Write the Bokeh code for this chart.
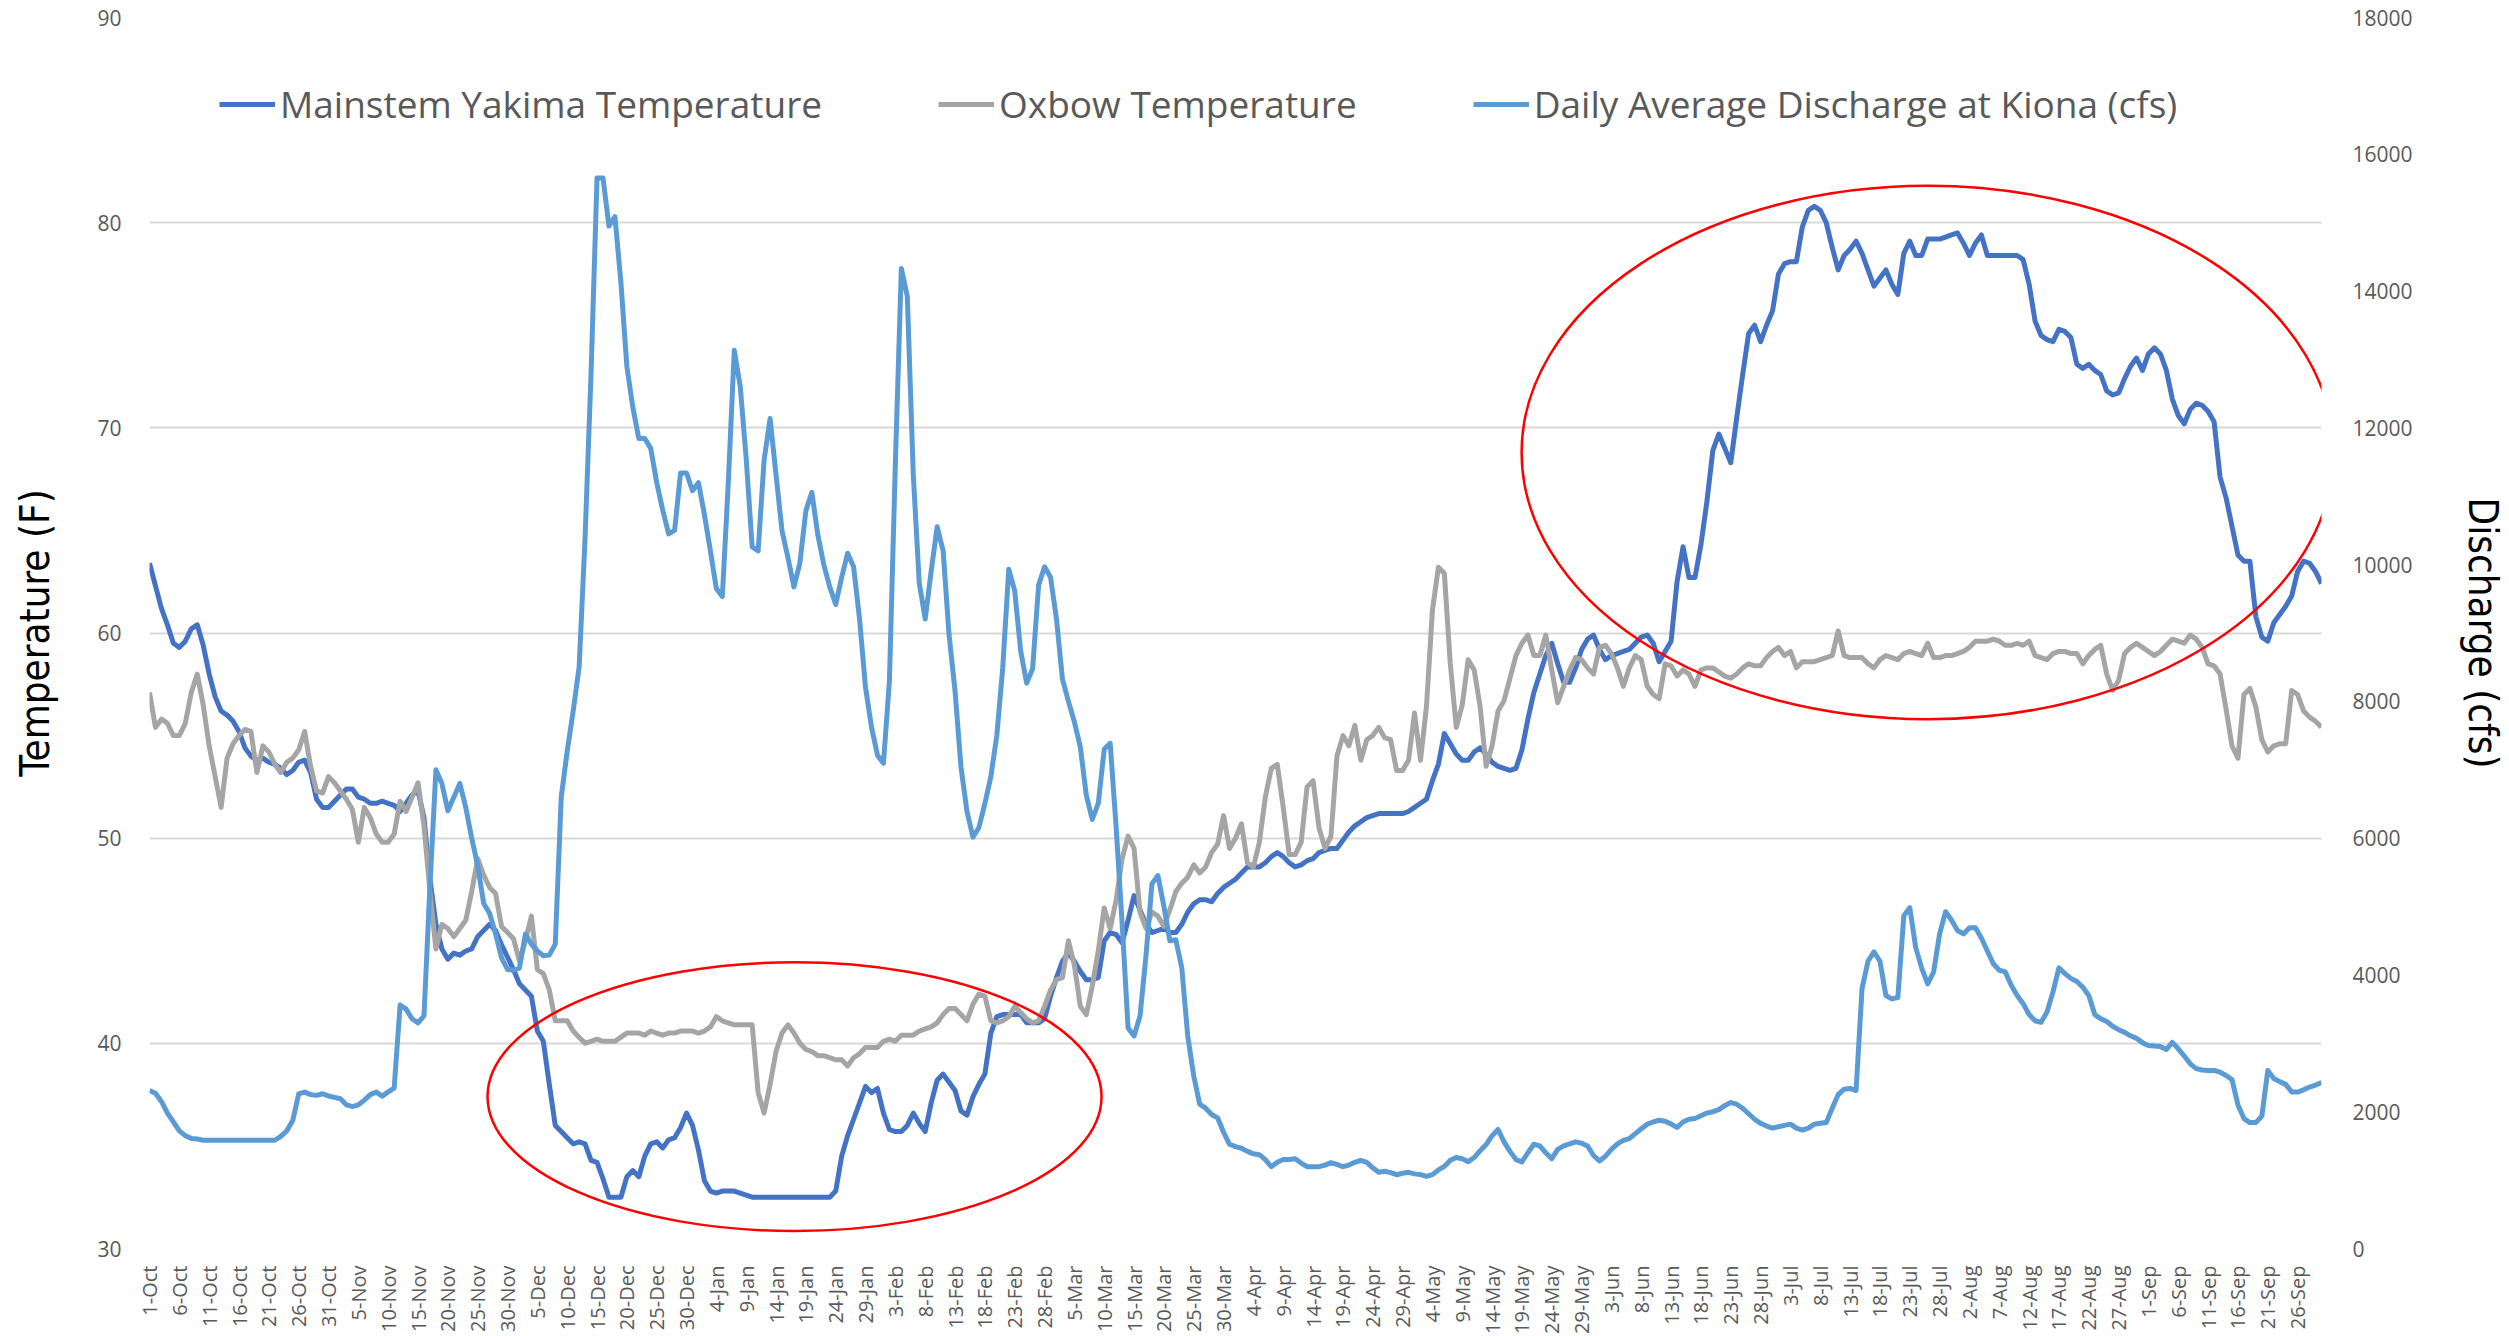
import math
from bokeh.plotting import figure
from bokeh.models import (Range1d, LinearAxis, FixedTicker, Legend, LegendItem)
from bokeh.embed import file_html
from bokeh.resources import INLINE

# ---------------- data (daily, 1-Oct .. 30-Sep) ----------------
mainstem_temp = [
    63.4, 62.3, 61.2, 60.4, 59.5, 59.3, 59.6, 60.2, 60.4, 59.4,
    58.0, 56.9, 56.2, 56.0, 55.7, 55.2, 54.4, 54.0, 53.8, 53.9,
    53.7, 53.6, 53.4, 53.1, 53.3, 53.7, 53.8, 53.2, 51.9, 51.5,
    51.5, 51.8, 52.1, 52.4, 52.4, 52.0, 51.9, 51.7, 51.7, 51.8,
    51.7, 51.6, 51.3, 51.7, 52.1, 52.3, 51.0, 48.0, 45.8, 44.6,
    44.1, 44.4, 44.3, 44.5, 44.6, 45.2, 45.5, 45.8, 45.5, 44.8,
    44.2, 43.6, 42.9, 42.6, 42.3, 40.6, 40.1, 38.0, 36.0, 35.7,
    35.4, 35.1, 35.2, 35.1, 34.3, 34.2, 33.4, 32.5, 32.5, 32.5,
    33.5, 33.8, 33.5, 34.5, 35.1, 35.2, 34.9, 35.3, 35.4, 35.9,
    36.6, 36.0, 34.8, 33.3, 32.8, 32.7, 32.8, 32.8, 32.8, 32.7,
    32.6, 32.5, 32.5, 32.5, 32.5, 32.5, 32.5, 32.5, 32.5, 32.5,
    32.5, 32.5, 32.5, 32.5, 32.5, 32.8, 34.5, 35.5, 36.3, 37.1,
    37.9, 37.6, 37.8, 36.6, 35.8, 35.7, 35.7, 36.0, 36.6, 36.1,
    35.7, 37.1, 38.2, 38.5, 38.1, 37.7, 36.7, 36.5, 37.4, 38.0,
    38.5, 40.5, 41.3, 41.4, 41.4, 41.4, 41.4, 41.0, 41.0, 41.0,
    41.2, 42.3, 43.2, 44.0, 44.4, 44.0, 43.5, 43.1, 43.1, 43.2,
    45.0, 45.4, 45.3, 44.9, 46.0, 47.2, 46.5, 45.8, 45.4, 45.5,
    45.6, 45.4, 45.4, 45.8, 46.4, 46.8, 47.0, 47.0, 46.9, 47.3,
    47.6, 47.8, 48.0, 48.3, 48.6, 48.6, 48.6, 48.8, 49.1, 49.3,
    49.1, 48.8, 48.6, 48.7, 48.9, 49.0, 49.3, 49.4, 49.5, 49.5,
    49.9, 50.3, 50.6, 50.8, 51.0, 51.1, 51.2, 51.2, 51.2, 51.2,
    51.2, 51.3, 51.5, 51.7, 51.9, 52.8, 53.6, 55.1, 54.6, 54.1,
    53.8, 53.8, 54.2, 54.4, 54.1, 53.7, 53.5, 53.4, 53.3, 53.4,
    54.3, 55.8, 57.1, 58.0, 58.9, 59.5, 58.5, 57.6, 57.6, 58.3,
    59.2, 59.7, 59.9, 59.2, 58.7, 58.9, 59.0, 59.1, 59.2, 59.5,
    59.8, 59.9, 59.5, 58.6, 59.1, 59.6, 62.5, 64.2, 62.7, 62.7,
    64.3, 66.4, 68.9, 69.7, 69.0, 68.3, 70.5, 72.6, 74.6, 75.0,
    74.2, 75.0, 75.7, 77.5, 78.0, 78.1, 78.1, 79.8, 80.6, 80.8,
    80.6, 80.0, 78.8, 77.7, 78.4, 78.7, 79.1, 78.5, 77.7, 76.9,
    77.3, 77.7, 77.0, 76.5, 78.5, 79.1, 78.4, 78.4, 79.2, 79.2,
    79.2, 79.3, 79.4, 79.5, 79.0, 78.4, 79.0, 79.4, 78.4, 78.4,
    78.4, 78.4, 78.4, 78.4, 78.2, 77.0, 75.2, 74.5, 74.3, 74.2,
    74.8, 74.7, 74.4, 73.1, 72.9, 73.1, 72.8, 72.6, 71.8, 71.6,
    71.7, 72.4, 73.0, 73.4, 72.8, 73.6, 73.9, 73.6, 72.8, 71.4,
    70.6, 70.2, 70.9, 71.2, 71.1, 70.8, 70.3, 67.6, 66.6, 65.2,
    63.8, 63.5, 63.5, 60.8, 59.8, 59.6, 60.5, 60.9, 61.3, 61.8,
    63.0, 63.5, 63.4, 63.0, 62.4,
]

oxbow_temp = [
    57.1, 55.4, 55.8, 55.6, 55.0, 55.0, 55.6, 57.1, 58.0, 56.5,
    54.5, 53.0, 51.5, 53.9, 54.6, 55.0, 55.3, 55.2, 53.2, 54.5,
    54.2, 53.6, 53.2, 53.7, 53.9, 54.3, 55.2, 53.5, 52.3, 52.2,
    53.0, 52.7, 52.3, 51.9, 51.4, 49.8, 51.5, 51.0, 50.2, 49.8,
    49.8, 50.2, 51.8, 51.3, 52.0, 52.7, 50.6, 47.4, 44.6, 45.8,
    45.6, 45.2, 45.6, 46.0, 47.4, 49.0, 48.2, 47.6, 47.3, 45.7,
    45.4, 45.1, 44.0, 45.0, 46.2, 43.6, 43.4, 42.6, 41.1, 41.1,
    41.1, 40.6, 40.3, 40.0, 40.1, 40.2, 40.1, 40.1, 40.1, 40.3,
    40.5, 40.5, 40.5, 40.4, 40.6, 40.5, 40.4, 40.5, 40.5, 40.6,
    40.6, 40.6, 40.5, 40.6, 40.8, 41.3, 41.1, 41.0, 40.9, 40.9,
    40.9, 40.9, 37.6, 36.6, 38.0, 39.6, 40.5, 40.9, 40.5, 40.0,
    39.7, 39.6, 39.4, 39.4, 39.3, 39.2, 39.2, 38.9, 39.3, 39.5,
    39.8, 39.8, 39.8, 40.1, 40.2, 40.1, 40.4, 40.4, 40.4, 40.6,
    40.7, 40.8, 41.0, 41.4, 41.7, 41.7, 41.4, 41.1, 41.9, 42.4,
    42.3, 41.1, 41.0, 41.1, 41.3, 41.8, 41.5, 41.2, 41.0, 41.1,
    41.8, 42.6, 43.1, 43.2, 45.0, 43.8, 41.8, 41.4, 42.8, 44.5,
    46.6, 45.6, 47.0, 49.0, 50.1, 49.5, 46.4, 45.6, 46.4, 46.2,
    45.7, 46.5, 47.4, 47.8, 48.1, 48.7, 48.3, 48.6, 49.3, 49.7,
    51.1, 49.5, 50.0, 50.7, 48.8, 48.6, 49.8, 52.0, 53.4, 53.6,
    51.5, 49.2, 49.2, 49.8, 52.5, 52.8, 50.5, 49.5, 50.1, 54.0,
    55.0, 54.5, 55.5, 53.8, 54.8, 55.0, 55.4, 54.9, 54.8, 53.3,
    53.3, 53.8, 56.1, 53.8, 56.4, 61.1, 63.2, 62.9, 58.5, 55.4,
    56.5, 58.7, 58.2, 56.4, 53.5, 54.5, 56.2, 56.7, 57.8, 58.9,
    59.5, 59.9, 58.9, 58.9, 59.9, 58.2, 56.6, 57.4, 58.2, 58.8,
    58.7, 58.3, 58.0, 59.3, 59.4, 59.0, 58.3, 57.4, 58.3, 58.9,
    58.7, 57.4, 57.0, 56.8, 58.5, 58.4, 57.9, 58.2, 58.0, 57.4,
    58.2, 58.3, 58.3, 58.1, 57.9, 57.8, 58.0, 58.3, 58.5, 58.4,
    58.4, 58.8, 59.1, 59.3, 58.9, 59.1, 58.3, 58.6, 58.6, 58.6,
    58.7, 58.8, 58.9, 60.1, 58.9, 58.8, 58.8, 58.8, 58.5, 58.3,
    58.7, 58.9, 58.8, 58.7, 59.0, 59.1, 59.0, 58.9, 59.5, 58.8,
    58.8, 58.9, 58.9, 59.0, 59.1, 59.3, 59.6, 59.6, 59.6, 59.7,
    59.6, 59.4, 59.4, 59.5, 59.4, 59.6, 58.9, 58.8, 58.7, 59.0,
    59.1, 59.1, 59.0, 59.0, 58.5, 58.9, 59.2, 59.4, 58.0, 57.2,
    57.7, 59.0, 59.3, 59.5, 59.3, 59.1, 58.9, 59.1, 59.4, 59.7,
    59.6, 59.5, 59.9, 59.7, 59.3, 58.5, 58.4, 58.0, 56.3, 54.5,
    53.9, 57.0, 57.3, 56.4, 54.8, 54.2, 54.5, 54.6, 54.6, 57.2,
    57.0, 56.2, 55.9, 55.7, 55.4,
]

discharge_cfs = [
    2310, 2270, 2150, 1980, 1850, 1720, 1650, 1610, 1600, 1583,
    1583, 1583, 1583, 1583, 1583, 1583, 1583, 1583, 1583, 1583,
    1583, 1583, 1640, 1720, 1870, 2260, 2287, 2250, 2240, 2263,
    2230, 2210, 2190, 2100, 2075, 2100, 2170, 2250, 2287, 2228,
    2290, 2345, 3560, 3500, 3360, 3300, 3400, 5300, 7000, 6800,
    6400, 6600, 6800, 6450, 6000, 5600, 5050, 4900, 4600, 4250,
    4080, 4070, 4100, 4600, 4450, 4350, 4280, 4290, 4450, 6600,
    7270, 7856, 8500, 10400, 12800, 15654, 15654, 14950, 15090, 14130,
    12900, 12300, 11843, 11843, 11700, 11200, 10800, 10450, 10500, 11339,
    11339, 11081, 11198, 10729, 10202, 9650, 9533, 11198, 13133, 12606,
    11550, 10260, 10202, 11527, 12136, 11315, 10495, 10100, 9674, 10026,
    10788, 11058, 10436, 10000, 9674, 9416, 9815, 10166, 9967, 9200,
    8200, 7622, 7211, 7094, 8300, 11491, 14329, 13919, 11315, 9733,
    9205, 9908, 10553, 10202, 8970, 8150, 7036, 6390, 6015, 6156,
    6508, 6900, 7500, 8500, 9932, 9615, 8736, 8267, 8478, 9700,
    9967, 9815, 9205, 8325, 8000, 7700, 7329, 6625, 6273, 6508,
    7300, 7387, 6156, 4749, 3225, 3107, 3400, 4280, 5335, 5453,
    5000, 4500, 4515, 4100, 3107, 2521, 2111, 2052, 1960, 1911,
    1700, 1524, 1489, 1466, 1420, 1384, 1372, 1300, 1196, 1260,
    1300, 1300, 1313, 1250, 1196, 1196, 1196, 1220, 1255, 1230,
    1196, 1220, 1260, 1290, 1260, 1180, 1114, 1130, 1110, 1079,
    1100, 1114, 1091, 1080, 1055, 1080, 1149, 1200, 1290, 1330,
    1313, 1270, 1330, 1430, 1520, 1650, 1740, 1560, 1420, 1300,
    1266, 1400, 1524, 1500, 1400, 1313, 1450, 1500, 1530, 1560,
    1540, 1500, 1360, 1280, 1350, 1450, 1530, 1580, 1607, 1680,
    1750, 1818, 1850, 1876, 1860, 1820, 1770, 1850, 1890, 1900,
    1940, 1980, 2000, 2030, 2090, 2134, 2110, 2050, 1970, 1890,
    1830, 1790, 1760, 1780, 1800, 1818, 1760, 1730, 1760, 1818,
    1830, 1841, 2050, 2250, 2330, 2340, 2310, 3800, 4200, 4339,
    4200, 3700, 3650, 3670, 4866, 4983, 4400, 4100, 3870, 4045,
    4600, 4925, 4800, 4650, 4600, 4690, 4690, 4540, 4350, 4163,
    4069, 4045, 3850, 3700, 3580, 3420, 3330, 3307, 3459, 3752,
    4104, 4020, 3950, 3905, 3820, 3700, 3420, 3360, 3318, 3250,
    3200, 3160, 3110, 3072, 3010, 2967, 2960, 2955, 2910, 3014,
    2920, 2814, 2700, 2630, 2610, 2603, 2603, 2580, 2530, 2470,
    2100, 1900, 1841, 1841, 1935, 2603, 2486, 2440, 2400, 2290,
    2287, 2320, 2360, 2390, 2427,
]

# tick labels every 5 days starting 1-Oct
tick_labels = [
    "1-Oct", "6-Oct", "11-Oct", "16-Oct", "21-Oct", "26-Oct", "31-Oct",
    "5-Nov", "10-Nov", "15-Nov", "20-Nov", "25-Nov", "30-Nov",
    "5-Dec", "10-Dec", "15-Dec", "20-Dec", "25-Dec", "30-Dec",
    "4-Jan", "9-Jan", "14-Jan", "19-Jan", "24-Jan", "29-Jan",
    "3-Feb", "8-Feb", "13-Feb", "18-Feb", "23-Feb", "28-Feb",
    "5-Mar", "10-Mar", "15-Mar", "20-Mar", "25-Mar", "30-Mar",
    "4-Apr", "9-Apr", "14-Apr", "19-Apr", "24-Apr", "29-Apr",
    "4-May", "9-May", "14-May", "19-May", "24-May", "29-May",
    "3-Jun", "8-Jun", "13-Jun", "18-Jun", "23-Jun", "28-Jun",
    "3-Jul", "8-Jul", "13-Jul", "18-Jul", "23-Jul", "28-Jul",
    "2-Aug", "7-Aug", "12-Aug", "17-Aug", "22-Aug", "27-Aug",
    "1-Sep", "6-Sep", "11-Sep", "16-Sep", "21-Sep", "26-Sep",
]
tick_step_days = 5
temp_ticks = [30, 40, 50, 60, 70, 80, 90]
discharge_ticks = [0, 2000, 4000, 6000, 8000, 10000, 12000, 14000, 16000, 18000]

# highlight ellipses (center day, center temperature, width in days, height in F)
ellipse_day = [108.1, 298.0]
ellipse_temp = [37.4, 68.8]
ellipse_width_days = [102.9, 136.1]
ellipse_height_f = [13.1, 26.0]

legend_labels = ["Mainstem Yakima Temperature", "Oxbow Temperature",
                 "Daily Average Discharge at Kiona (cfs)"]

# ---------------- figure ----------------
days = list(range(len(mainstem_temp)))
tick_days = [i * tick_step_days for i in range(len(tick_labels))]

p = figure(width=2508, height=1336, output_backend="svg", toolbar_location=None,
           x_range=Range1d(0, len(days) - 1), y_range=Range1d(30, 90),
           min_border_left=149, min_border_right=187, min_border_top=17,
           min_border_bottom=20)
p.extra_y_ranges = {"q": Range1d(0, 18000)}
p.outline_line_color = None
p.background_fill_color = "white"
p.border_fill_color = "white"

GRAY_TXT = "#595959"

# x axis
xa = p.xaxis[0]
xa.ticker = FixedTicker(ticks=tick_days)
xa.major_label_overrides = {d: lab for d, lab in zip(tick_days, tick_labels)}
xa.major_label_orientation = math.pi / 2
xa.major_label_text_font = "Open Sans"
xa.major_label_text_font_size = "20px"
xa.major_label_text_color = GRAY_TXT
xa.major_label_standoff = 11
xa.major_tick_line_color = None
xa.minor_tick_line_color = None
xa.axis_line_color = None

# left axis
ya = p.yaxis[0]
ya.ticker = FixedTicker(ticks=temp_ticks)
ya.major_label_text_font = "Open Sans"
ya.major_label_text_font_size = "21px"
ya.major_label_text_color = GRAY_TXT
ya.major_label_standoff = 22
ya.major_tick_line_color = None
ya.minor_tick_line_color = None
ya.axis_line_color = None
ya.axis_label = "Temperature (F)"
ya.axis_label_text_font = "DejaVu Sans Condensed"
ya.axis_label_text_font_size = "40px"
ya.axis_label_text_font_style = "normal"
ya.axis_label_text_color = "#000000"
ya.axis_label_standoff = 36

# right axis
ra = LinearAxis(y_range_name="q", ticker=FixedTicker(ticks=discharge_ticks))
ra.major_label_text_font = "Open Sans"
ra.major_label_text_font_size = "21px"
ra.major_label_text_color = GRAY_TXT
ra.major_label_standoff = 25
ra.major_tick_line_color = None
ra.minor_tick_line_color = None
ra.axis_line_color = None
ra.axis_label = "Discharge (cfs)"
ra.axis_label_text_font = "DejaVu Sans Condensed"
ra.axis_label_text_font_size = "40px"
ra.axis_label_text_font_style = "normal"
ra.axis_label_text_color = "#000000"
ra.axis_label_standoff = 44
p.add_layout(ra, "right")

p.xgrid.visible = False
p.ygrid.grid_line_color = "#D9D9D9"
p.ygrid.grid_line_width = 2
p.ygrid.ticker = FixedTicker(ticks=temp_ticks)

# series
r_main = p.line(days, mainstem_temp, line_color="#4472C4", line_width=5,
                line_join="round")
r_ox = p.line(days, oxbow_temp, line_color="#A5A5A5", line_width=5,
              line_join="round")
r_q = p.line(days, discharge_cfs, y_range_name="q", line_color="#5B9BD5",
             line_width=5, line_join="round")

# red ellipses
p.ellipse(x=ellipse_day, y=ellipse_temp, width=ellipse_width_days,
          height=ellipse_height_f, fill_color=None, line_color="#FF0000",
          line_width=2.5)

legend = Legend(items=[LegendItem(label=legend_labels[0], renderers=[r_main]),
                       LegendItem(label=legend_labels[1], renderers=[r_ox]),
                       LegendItem(label=legend_labels[2], renderers=[r_q])],
                orientation="horizontal", location=(70, 1119),
                glyph_width=56, glyph_height=20, label_standoff=5, spacing=116,
                padding=0, margin=0, border_line_color=None,
                background_fill_alpha=0,
                label_text_font="Open Sans", label_text_font_size="37px",
                label_text_color=GRAY_TXT)
p.add_layout(legend, "center")

open("out.html", "w").write(file_html(p, INLINE))
